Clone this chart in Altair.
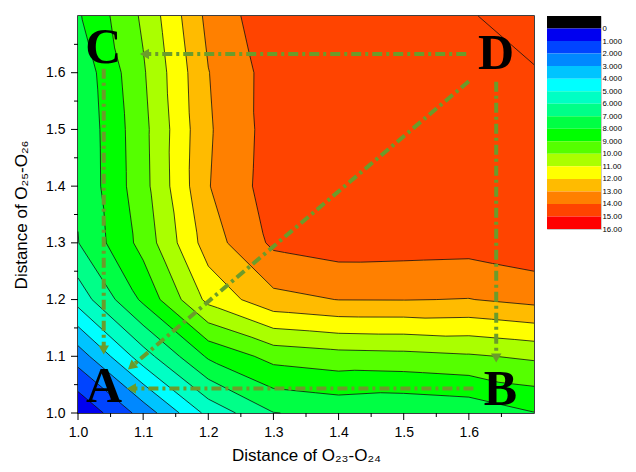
import numpy as np
import pandas as pd
import altair as alt

# ---------------- data ----------------
x_grid = [1.0, 1.1, 1.2, 1.3, 1.4, 1.5, 1.6, 1.7]
y_grid = [1.0, 1.1, 1.2, 1.3, 1.4, 1.5, 1.6, 1.7]
# energy values on the grid, one list per row (y = 1.0 ... 1.7)
z_y10 = [0.12, 2.38, 5.3, 6.97, 7.25, 7.1, 7.27, 7.96]
z_y11 = [2.45, 5.55, 8.15, 9.35, 9.62, 9.7, 9.88, 10.17]
z_y12 = [5.4, 8.2, 11.28, 12.7, 13.02, 13.03, 12.97, 13.3]
z_y13 = [6.97, 9.35, 12.5, 14.2, 14.5, 14.45, 14.4, 14.7]
z_y14 = [7.12, 9.65, 12.95, 14.5, 14.6, 14.65, 14.7, 14.8]
z_y15 = [7.14, 9.7, 12.88, 14.45, 14.65, 14.7, 14.75, 14.85]
z_y16 = [7.26, 9.88, 12.97, 14.44, 14.7, 14.75, 14.8, 14.85]
z_y17 = [7.87, 10.17, 13.28, 14.72, 14.8, 14.85, 14.85, 15.9]

levels = list(range(0, 17))
band_colors = ["#000000", "#0000f0", "#0044ff", "#0088ff", "#00c4ff", "#00ffff",
               "#00ffc4", "#00ff88", "#00ff44", "#00ff00", "#55ff00", "#aaff00",
               "#ffff00", "#ffbb00", "#ff8000", "#ff4400", "#ff0000"]
cb_labels_lo = list(range(-1, 16))

x_ticks = [1.0, 1.1, 1.2, 1.3, 1.4, 1.5, 1.6]
x_minor = [1.05, 1.15, 1.25, 1.35, 1.45, 1.55, 1.65]
y_ticks = [1.0, 1.1, 1.2, 1.3, 1.4, 1.5, 1.6]
y_minor = [1.05, 1.15, 1.25, 1.35, 1.45, 1.55, 1.65]

letter_text = ["A", "B", "C", "D"]
letter_x = [1.0398, 1.6485, 1.039, 1.6417]
letter_y = [1.019, 1.014, 1.617, 1.607]

arrow_x1 = [1.596, 1.642, 1.607, 1.0395, 1.600]
arrow_y1 = [1.633, 1.584, 1.043, 1.607, 1.585]
arrow_x2 = [1.102, 1.642, 1.082, 1.0395, 1.082]
arrow_y2 = [1.633, 1.097, 1.043, 1.111, 1.082]
arrow_ang = [270, 180, 270, 180, 230]

GREEN = "#6b9c2b"

# ---------------- build tables ----------------
xs = np.array(x_grid)
ys = np.array(y_grid)
Z = np.array([z_y10, z_y11, z_y12, z_y13, z_y14, z_y15, z_y16, z_y17])
d = 0.1


def interp(X, Y):
    fi = (X - xs[0]) / d
    fj = (Y - ys[0]) / d
    i = np.clip(np.floor(fi).astype(int), 0, len(xs) - 2)
    j = np.clip(np.floor(fj).astype(int), 0, len(ys) - 2)
    u = fi - i
    v = fj - j
    bl = Z[j, i]; br = Z[j, i + 1]; tl = Z[j + 1, i]; tr = Z[j + 1, i + 1]
    z1 = bl + u * (br - bl) + v * (tl - bl)
    z2 = tr + (1 - u) * (tl - tr) + (1 - v) * (br - tr)
    return np.where(u + v <= 1, z1, z2)


W, H = 456, 397
NX, NY = W, H
x0, x1 = xs[0], xs[-1]
y0, y1 = ys[0], ys[-1]
xe = x0 + np.arange(NX + 1) * (x1 - x0) / NX
ye = y0 + np.arange(NY + 1) * (y1 - y0) / NY
xc = (xe[:-1] + xe[1:]) / 2
yc = (ye[:-1] + ye[1:]) / 2
XX, YY = np.meshgrid(xc, yc)
band = np.clip(np.floor(interp(XX, YY)), -1, 14).astype(int)
# each rect overlaps the next cell fully; later rects paint over, so no seams
ovx = (x1 - x0) / NX
ovy = (y1 - y0) / NY
fill_rows = []
for r in range(NY):
    b = band[r]
    s = 0
    for c in range(1, NX + 1):
        if c == NX or b[c] != b[s]:
            fill_rows.append(dict(x=xe[s], x2=min(xe[c] + ovx, x1), y=ye[r],
                                  y2=min(ye[r + 1] + ovy, y1), col=band_colors[b[s] + 1]))
            s = c
df_fill = pd.DataFrame(fill_rows)

segs = []
for j in range(len(ys) - 1):
    for i in range(len(xs) - 1):
        tris = [[(i, j), (i + 1, j), (i, j + 1)], [(i + 1, j + 1), (i, j + 1), (i + 1, j)]]
        for tri in tris:
            pts = [(xs[a], ys[b_], Z[b_, a]) for a, b_ in tri]
            for L in levels:
                cr = []
                for k in range(3):
                    p, q = pts[k], pts[(k + 1) % 3]
                    if (p[2] - L) * (q[2] - L) < 0:
                        t = (L - p[2]) / (q[2] - p[2])
                        cr.append((p[0] + t * (q[0] - p[0]), p[1] + t * (q[1] - p[1])))
                if len(cr) == 2:
                    segs.append(dict(x=cr[0][0], y=cr[0][1], x2=cr[1][0], y2=cr[1][1]))
df_seg = pd.DataFrame(segs)

df_arrows = pd.DataFrame(dict(x=arrow_x1, y=arrow_y1, x2=arrow_x2, y2=arrow_y2))
df_heads = pd.DataFrame(dict(x=arrow_x2, y=arrow_y2, ang=arrow_ang))
df_letters = pd.DataFrame(dict(x=letter_x, y=letter_y, t=letter_text))
df_cb = pd.DataFrame(dict(lo=cb_labels_lo, hi=[v + 1 for v in cb_labels_lo],
                          col=band_colors, k=["c"] * len(cb_labels_lo)))

# ---------------- chart ----------------
xscale = alt.Scale(domain=[1.0, 1.7], nice=False, zero=False)
yscale = alt.Scale(domain=[1.0, 1.7], nice=False, zero=False)

x_axis = alt.Axis(values=x_ticks, format=".1f", ticks=False, labelFlush=False, grid=False,
                  domain=False, orient="bottom", labelPadding=12, titlePadding=8,
                  title="Distance of O₂₃-O₂₄")
y_axis = alt.Axis(values=y_ticks, format=".1f", ticks=False, labelFlush=False, grid=False,
                  domain=False, orient="left", labelPadding=13, titlePadding=15,
                  title="Distance of O₂₅-O₂₆")


def X(field):
    return alt.X(field, scale=xscale, axis=x_axis)


def Y(field):
    return alt.Y(field, scale=yscale, axis=y_axis)


fill = alt.Chart(df_fill).mark_rect().encode(
    x=X("x:Q"), x2="x2", y=Y("y:Q"), y2="y2",
    color=alt.Color("col:N", scale=None),
)
lines = alt.Chart(df_seg).mark_rule(color="#111111", strokeWidth=0.8).encode(
    x=X("x:Q"), x2="x2", y=Y("y:Q"), y2="y2",
)
dashes = alt.Chart(df_arrows).mark_rule(color=GREEN, strokeWidth=4,
                                         strokeDash=[10, 4, 3, 4]).encode(
    x=X("x:Q"), x2="x2", y=Y("y:Q"), y2="y2",
)
heads = alt.Chart(df_heads).mark_point(shape="triangle-up", filled=True, color=GREEN,
                                       size=110, opacity=1).encode(
    x=X("x:Q"), y=Y("y:Q"),
    angle=alt.Angle("ang:Q", scale=None),
)
letters = alt.Chart(df_letters).mark_text(font="Liberation Serif", fontWeight="bold",
                                          fontSize=50, baseline="alphabetic",
                                          align="center", color="black").encode(
    x=X("x:Q"), y=Y("y:Q"), text="t:N",
)

# axis tick marks (major long, minor short), placed by the x / y scales
xt_major = alt.Chart(pd.DataFrame(dict(v=x_ticks))).mark_rule(color="black").encode(
    x=X("v:Q"), y=alt.value(H), y2=alt.value(H + 7))
xt_minor = alt.Chart(pd.DataFrame(dict(v=x_minor))).mark_rule(color="black").encode(
    x=X("v:Q"), y=alt.value(H), y2=alt.value(H + 4))
yt_major = alt.Chart(pd.DataFrame(dict(v=y_ticks))).mark_rule(color="black").encode(
    y=Y("v:Q"), x=alt.value(0), x2=alt.value(-7))
yt_minor = alt.Chart(pd.DataFrame(dict(v=y_minor))).mark_rule(color="black").encode(
    y=Y("v:Q"), x=alt.value(0), x2=alt.value(-4))

main = alt.layer(fill, lines, dashes, heads, letters,
                 xt_major, xt_minor, yt_major, yt_minor).properties(
    width=W, height=H, view=alt.ViewBackground(stroke="black", strokeWidth=1.5))

cb = alt.Chart(df_cb).mark_rect().encode(
    x=alt.X("k:N", axis=None, scale=alt.Scale(paddingInner=0, paddingOuter=0)),
    y=alt.Y("lo:Q", scale=alt.Scale(domain=[-1, 16], reverse=True, nice=False, zero=False),
            axis=alt.Axis(orient="right", values=levels, tickSize=0, domain=False, grid=False,
                          labelPadding=1, labelFontSize=7.8, title=None, labelFlush=False,
                          labelExpr="datum.value == 0 ? '0' : (datum.value < 10 ? format(datum.value, '.3f') : format(datum.value, '.2f'))")),
    y2="hi",
    color=alt.Color("col:N", scale=None),
).properties(width=54, height=213, view=alt.ViewBackground(stroke="#c8c8c8", strokeWidth=1))

chart = alt.hconcat(main, cb, spacing=10).properties(
    padding={"left": 3, "top": 6, "right": 0, "bottom": 0}
).configure(font="Liberation Sans").configure_axis(
    labelFont="Liberation Sans", labelFontSize=14, labelColor="black",
    titleFont="Liberation Sans", titleFontSize=17, titleFontWeight="normal", titleColor="black",
)

chart.save("out.html", embed_options={"renderer": "svg", "actions": False})
